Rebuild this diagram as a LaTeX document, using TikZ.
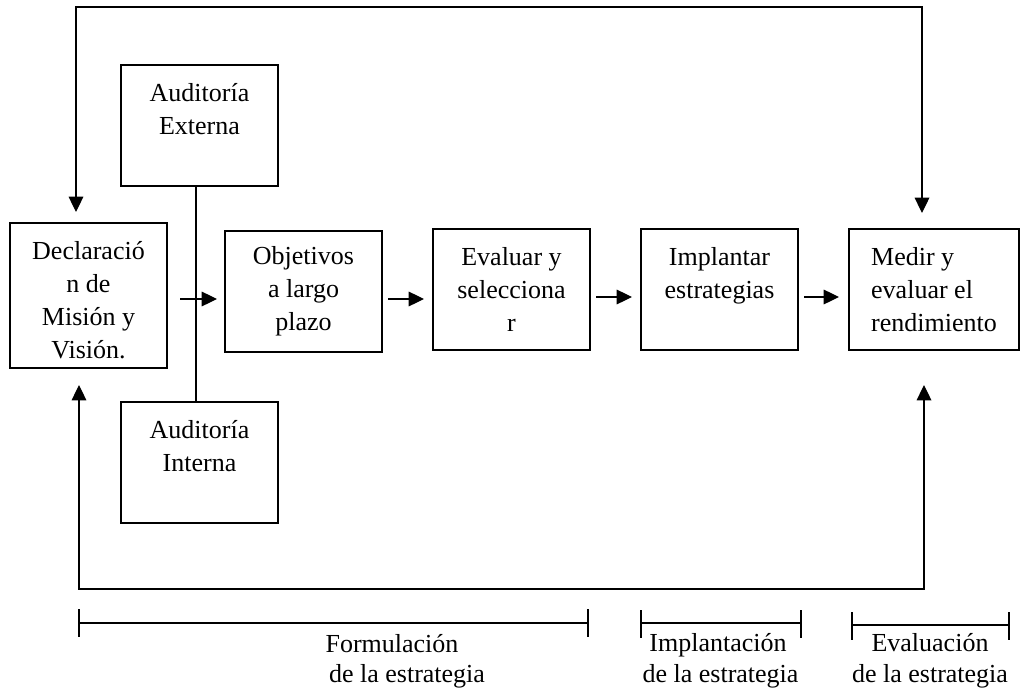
\documentclass[tikz,border=0pt]{standalone}
\usepackage{fontspec}
\setmainfont{Liberation Serif}
\usetikzlibrary{arrows.meta}
\begin{document}
\begin{tikzpicture}[x=0.75pt,y=-0.75pt,
  font=\fontsize{19.5pt}{24.75pt}\selectfont,
  box/.style={draw,line width=1.3pt,inner sep=0pt,outer sep=0pt,align=center,
    minimum width=117.75pt,minimum height=90.75pt},
  conn/.style={line width=0.9pt},
  tip/.style={-{Triangle[width=11pt,length=11.5pt]}},
  tips/.style={{Triangle[width=11pt,length=11.5pt]}-{Triangle[width=11pt,length=11.5pt]}},
  lbl/.style={anchor=base,inner sep=0pt}
]
\useasboundingbox (0,0) rectangle (1020,692);

% boxes
\node[box,minimum height=108.75pt] (decl) at (88.5,295.5) {};
\node[inner sep=0pt,align=center] (decltext) at (88.5,300.5) {Declaració\\n de\\Misión y\\Visión.};
\node[box] (obj) at (303.5,291.5) {Objetivos\\a largo\\plazo};
\node[box] (eval) at (511.5,289.5) {Evaluar y\\selecciona\\r};
\node[box] (impl) at (719.5,289.5) {Implantar\\estrategias\\\mbox{}};
\node[box,align=left,minimum width=127.5pt] (medir) at (934,289.5) {Medir y\\evaluar el\\rendimiento};
\node[box] (ext) at (199.5,125.5) {Auditoría\\Externa\\\mbox{}};
\node[box] (int) at (199.5,462.5) {Auditoría\\Interna\\\mbox{}};

% audit connector
\draw[conn] ([xshift=-2.6pt]ext.south) -- ([xshift=-2.6pt]int.north);

% horizontal arrows
\draw[conn,tip,shorten <=9.75pt,shorten >=6pt] (decl.east |- 0,299) -- (obj.west |- 0,299);
\draw[conn,tip,shorten <=4.5pt,shorten >=6.75pt] (obj.east |- 0,299) -- (eval.west |- 0,299);
\draw[conn,tip,shorten <=4.5pt,shorten >=6.75pt] (eval.east |- 0,297) -- (impl.west |- 0,297);
\draw[conn,tip,shorten <=4.5pt,shorten >=7.5pt] (impl.east |- 0,297) -- (medir.west |- 0,297);

% feedback loops
\coordinate (tl) at (76,7);
\coordinate (tr) at (922,7);
\coordinate (bl) at (79,589);
\coordinate (br) at (924,589);
\draw[conn,tips,shorten <=8.25pt,shorten >=12pt] (tl |- decl.north) -- (tl) -- (tr) -- (tr |- medir.north);
\draw[conn,tips,shorten <=12.75pt,shorten >=26.25pt] (bl |- decl.south) -- (bl) -- (br) -- (br |- medir.south);

% brackets
\draw[conn] (79,609) -- (79,637) (79,623) -- (588,623) (588,609) -- (588,637);
\draw[conn] (641,610) -- (641,638) (641,623) -- (801,623) (801,610) -- (801,638);
\draw[conn] (852,612) -- (852,640) (852,625) -- (1009,625) (1009,612) -- (1009,640);

% labels
\node[lbl] (f1) at (392,652) {Formulación};
\node[lbl] (f2) at (407,682) {de la estrategia};
\node[lbl] (i1) at (718,651) {Implantación};
\node[lbl] (i2) at (720.5,682) {de la estrategia};
\node[lbl] (e1) at (930,651) {Evaluación};
\node[lbl] (e2) at (930,682) {de la estrategia};
\end{tikzpicture}
\end{document}
